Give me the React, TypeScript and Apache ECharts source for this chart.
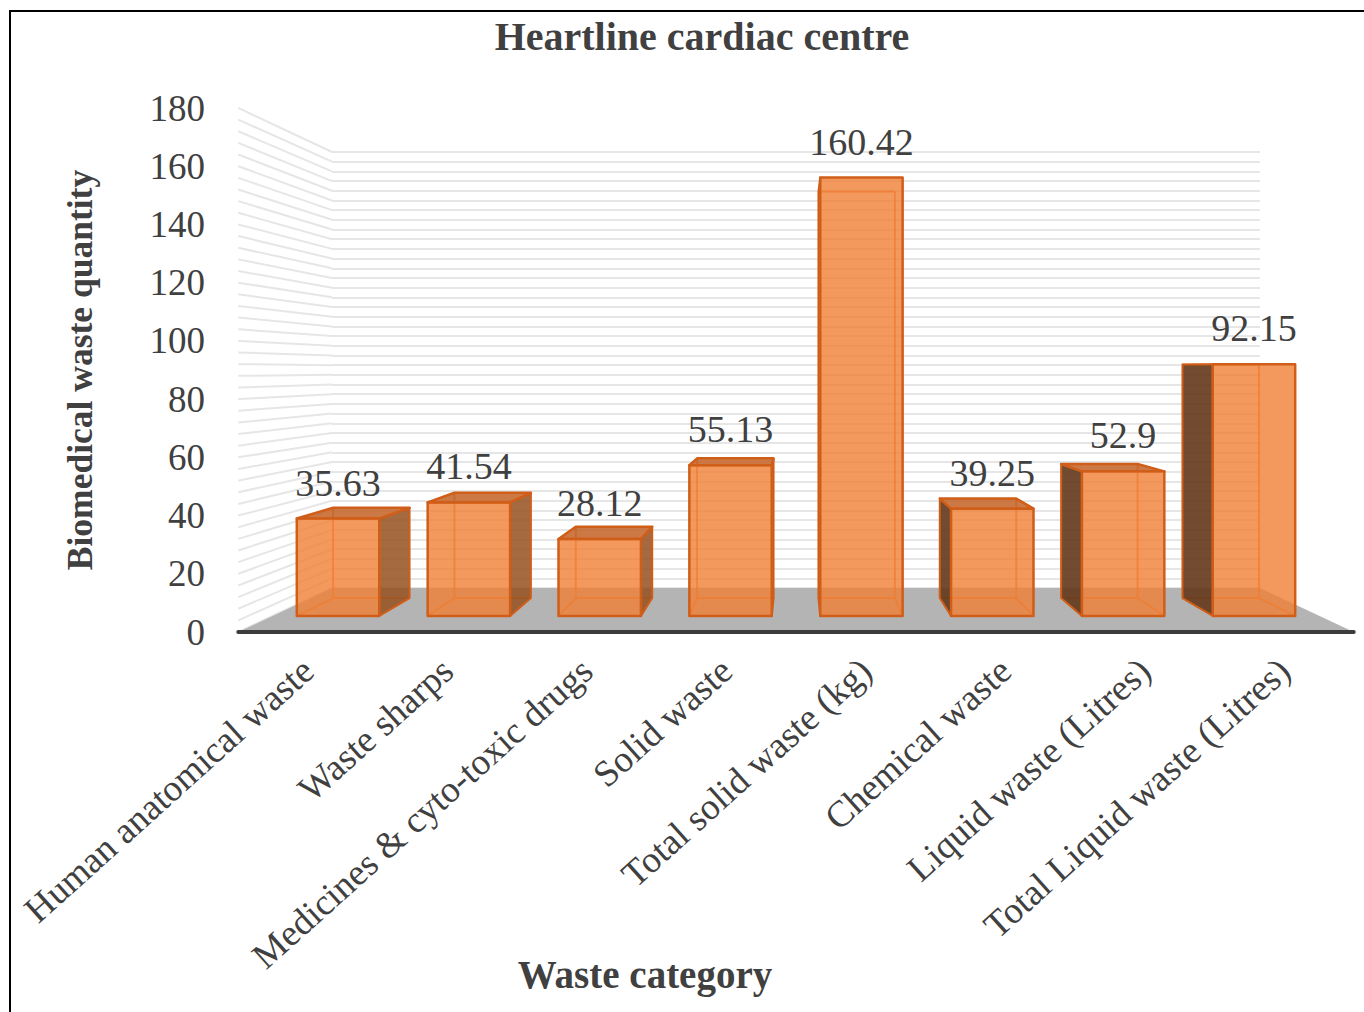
import React, { useEffect, useRef } from "react";
import * as echarts from "echarts";

const categories = [
  "Human anatomical waste",
  "Waste sharps",
  "Medicines & cyto-toxic drugs",
  "Solid waste",
  "Total solid waste (kg)",
  "Chemical waste",
  "Liquid waste (Litres)",
  "Total Liquid waste (Litres)",
];
const values = [35.63, 41.54, 28.12, 55.13, 160.42, 39.25, 52.9, 92.15];
const axisMin = 0;
const axisMax = 180;
const majorStep = 20;
const minorStep = 4;
const wallTicks: number[] = [];
for (let t = axisMin; t <= axisMax; t += minorStep) wallTicks.push(t);

const TITLE = "Heartline cardiac centre";
const Y_TITLE = "Biomedical waste quantity";
const X_TITLE = "Waste category";

// perspective layout (pixels)
const VX = 796;
const VY = 370;
const K_FLOOR = 1.202;
const K_BAR_FRONT = 1.128;
const K_BAR_BACK = 1.046;
const BAR_HALF = 0.315;
const SERIF = '"Liberation Serif", "Times New Roman", serif';
const TXT = "#404040";

const P = (x: number, y: number, k: number) => [VX + (x - VX) * k, VY + (y - VY) * k];

export default function App() {
  const ref = useRef<HTMLDivElement>(null);
  useEffect(() => {
    if (!ref.current) return;
    const chart = echarts.init(ref.current, undefined, { renderer: "svg" });
    const option: any = {
      animation: false,
      backgroundColor: "#ffffff",
      title: [
        {
          text: TITLE,
          left: 697,
          top: 11,
          textAlign: "center",
          textStyle: { fontFamily: SERIF, fontWeight: "bold", fontSize: 40, color: TXT },
        },
        {
          text: X_TITLE,
          left: 640,
          top: 950,
          textAlign: "center",
          textStyle: { fontFamily: SERIF, fontWeight: "bold", fontSize: 39, color: TXT },
        },
      ],
      graphic: [
        { type: "line", shape: { x1: 9, y1: 11, x2: 1364, y2: 11 }, style: { stroke: "#000", lineWidth: 2 } },
        { type: "line", shape: { x1: 10, y1: 10, x2: 10, y2: 1012 }, style: { stroke: "#000", lineWidth: 2 } },
      ],
      grid: [
        { left: 332, top: 152, width: 928, height: 436 },
        { left: 238, top: 108, width: 1116, height: 524 },
      ],
      xAxis: [
        {
          gridIndex: 0,
          type: "category",
          data: categories,
          axisLine: { show: false },
          axisTick: { show: false },
          axisLabel: { show: false },
        },
        {
          gridIndex: 1,
          type: "category",
          data: categories,
          axisLine: { show: false },
          axisTick: { show: false },
          axisLabel: {
            interval: 0,
            rotate: 42,
            margin: 33,
            fontSize: 37,
            fontFamily: SERIF,
            color: TXT,
          },
        },
      ],
      yAxis: [
        {
          gridIndex: 0,
          type: "value",
          min: axisMin,
          max: axisMax,
          interval: minorStep,
          axisLine: { show: false },
          axisTick: { show: false },
          axisLabel: { show: false },
          splitLine: { lineStyle: { color: "#E6E6E6", width: 2 } },
        },
        {
          gridIndex: 1,
          type: "value",
          min: axisMin,
          max: axisMax,
          interval: majorStep,
          axisLine: { show: false },
          axisTick: { show: false },
          splitLine: { show: false },
          axisLabel: { margin: 33, fontSize: 37, fontFamily: SERIF, color: TXT },
          name: Y_TITLE,
          nameLocation: "middle",
          nameGap: 140,
          nameTextStyle: { fontFamily: SERIF, fontWeight: "bold", fontSize: 35.5, color: TXT },
        },
      ],
      series: [
        {
          type: "custom",
          name: "leftWall",
          xAxisIndex: 0,
          yAxisIndex: 0,
          silent: true,
          z: 1,
          data: wallTicks.map((t) => [0, t]),
          renderItem: (params: any, api: any) => {
            const cs = params.coordSys;
            const y = api.coord([0, api.value(1)])[1];
            const f = P(cs.x, y, K_FLOOR);
            return {
              type: "line",
              shape: { x1: f[0], y1: f[1], x2: cs.x, y2: y },
              style: { stroke: "#E6E6E6", lineWidth: 2 },
            };
          },
        },
        {
          type: "custom",
          name: "floor",
          xAxisIndex: 0,
          yAxisIndex: 0,
          silent: true,
          z: 2,
          data: [[0, axisMin]],
          renderItem: (params: any, api: any) => {
            const cs = params.coordSys;
            const yb = api.coord([0, api.value(1)])[1];
            const l = cs.x;
            const r = cs.x + cs.width;
            const fl = P(l, yb, K_FLOOR);
            const fr = P(r, yb, K_FLOOR);
            return {
              type: "group",
              children: [
                {
                  type: "polygon",
                  shape: { points: [fl, fr, [r, yb], [l, yb]] },
                  style: { fill: "#B4B4B4" },
                },
                {
                  type: "line",
                  shape: { x1: fl[0], y1: fl[1], x2: fr[0], y2: fr[1] },
                  style: { stroke: "#3C3C3C", lineWidth: 4, lineCap: "round" },
                },
              ],
            };
          },
        },
        {
          type: "custom",
          name: "bars",
          xAxisIndex: 0,
          yAxisIndex: 0,
          z: 3,
          data: values.map((v, i) => [i, v]),
          renderItem: (params: any, api: any) => {
            const i = api.value(0);
            const v = api.value(1);
            const base = api.coord([i, axisMin]);
            const topP = api.coord([i, v]);
            const band = api.size([1, 0])[0];
            const hw = band * BAR_HALF;
            const xl = base[0] - hw;
            const xr = base[0] + hw;
            const y0 = base[1];
            const y1 = topP[1];
            const fbl = P(xl, y0, K_BAR_FRONT);
            const fbr = P(xr, y0, K_BAR_FRONT);
            const ftl = P(xl, y1, K_BAR_FRONT);
            const ftr = P(xr, y1, K_BAR_FRONT);
            const bbl = P(xl, y0, K_BAR_BACK);
            const bbr = P(xr, y0, K_BAR_BACK);
            const btl = P(xl, y1, K_BAR_BACK);
            const btr = P(xr, y1, K_BAR_BACK);
            const leftOfEye = base[0] < VX;
            const topVisible = y1 > VY;
            const edge = "#D05E18";
            const inner = "rgba(232,112,36,0.75)";
            const children: any[] = [];
            // hidden edges
            const hidden = leftOfEye
              ? [
                  [btl, bbl],
                  [bbl, bbr],
                  [fbl, bbl],
                ]
              : [
                  [btr, bbr],
                  [bbl, bbr],
                  [fbr, bbr],
                ];
            if (!topVisible) hidden.push([btl, btr]);
            hidden.forEach((s) =>
              children.push({
                type: "line",
                shape: { x1: s[0][0], y1: s[0][1], x2: s[1][0], y2: s[1][1] },
                style: { stroke: inner, lineWidth: 2 },
              })
            );
            // side face
            const side = leftOfEye ? [ftr, btr, bbr, fbr] : [ftl, btl, bbl, fbl];
            children.push({
              type: "polygon",
              shape: { points: side },
              style: {
                fill: leftOfEye ? "rgba(150,80,30,0.85)" : "rgba(100,55,25,0.9)",
                stroke: edge,
                lineWidth: 2,
                lineJoin: "round",
              },
            });
            // top face
            if (topVisible) {
              children.push({
                type: "polygon",
                shape: { points: [ftl, ftr, btr, btl] },
                style: { fill: "rgba(195,98,38,0.85)", stroke: edge, lineWidth: 2.5, lineJoin: "round" },
              });
            }
            // front face
            children.push({
              type: "polygon",
              shape: { points: [ftl, ftr, fbr, fbl] },
              style: { fill: "rgba(240,128,52,0.8)", stroke: edge, lineWidth: 2.5, lineJoin: "round" },
            });
            // value label
            children.push({
              type: "text",
              style: {
                text: String(v),
                x: (ftl[0] + ftr[0]) / 2,
                y: ftl[1] - 36,
                align: "center",
                verticalAlign: "middle",
                fontSize: 38,
                fontFamily: SERIF,
                fill: TXT,
              },
            });
            return { type: "group", children };
          },
        },
      ],
    };
    chart.setOption(option);
    return () => chart.dispose();
  }, []);
  return (
    <div
      ref={ref}
      style={{ position: "absolute", left: 0, top: 0, width: 1364, height: 1012 }}
    />
  );
}
